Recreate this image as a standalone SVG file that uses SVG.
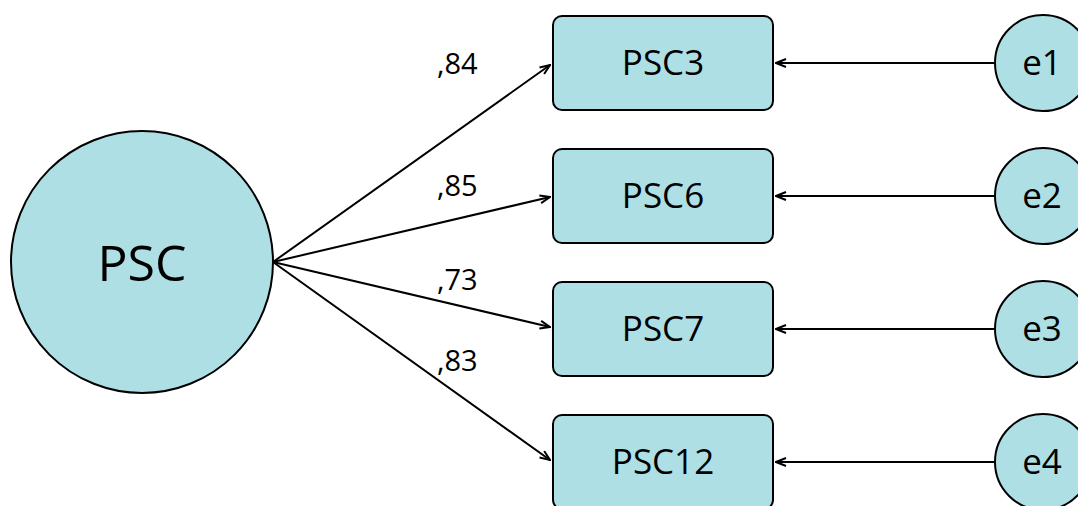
<svg xmlns="http://www.w3.org/2000/svg" width="1078" height="506" viewBox="0 0 1078 506">
<defs>
<style>
.shape{fill:#addfe5;stroke:#000;stroke-width:2}
.lbl{font-family:"Open Sans","Noto Sans",sans-serif;fill:#000;text-anchor:middle}
.coef{font-family:"Open Sans","Noto Sans",sans-serif;fill:#000;font-size:29px}
.edge{stroke:#000;stroke-width:2;fill:none;marker-end:url(#arr)}
</style>
<marker id="arr" markerUnits="userSpaceOnUse" viewBox="0 0 12 10" refX="11" refY="5" markerWidth="12" markerHeight="10" orient="auto">
<path d="M1,1 L11,5 L1,9" fill="none" stroke="#000" stroke-width="2"/>
</marker>
</defs>
<rect width="1078" height="506" fill="#fff"/>
<g id="connectors">
<line class="edge" x1="273" y1="262" x2="550" y2="65"/>
<line class="edge" x1="273" y1="262" x2="550" y2="197"/>
<line class="edge" x1="273" y1="262" x2="550" y2="327"/>
<line class="edge" x1="273" y1="262" x2="550" y2="460"/>
<line class="edge" x1="995" y1="63" x2="776" y2="63"/>
<line class="edge" x1="995" y1="196" x2="776" y2="196"/>
<line class="edge" x1="995" y1="329" x2="776" y2="329"/>
<line class="edge" x1="995" y1="462" x2="776" y2="462"/>
<text class="coef" x="437" y="74">,84</text>
<text class="coef" x="437" y="196">,85</text>
<text class="coef" x="437" y="290">,73</text>
<text class="coef" x="437" y="371">,83</text>
</g>
<g id="PSC">
<circle class="shape" cx="142" cy="262" r="131"/>
<text class="lbl" x="142" y="281" font-size="50">PSC</text>
</g>
<g id="PSC3">
<rect class="shape" x="553" y="16" width="220" height="94" rx="9"/>
<text class="lbl" x="663" y="75" font-size="35">PSC3</text>
</g>
<g id="PSC6">
<rect class="shape" x="553" y="149" width="220" height="94" rx="9"/>
<text class="lbl" x="663" y="208" font-size="35">PSC6</text>
</g>
<g id="PSC7">
<rect class="shape" x="553" y="282" width="220" height="94" rx="9"/>
<text class="lbl" x="663" y="341" font-size="35">PSC7</text>
</g>
<g id="PSC12">
<rect class="shape" x="553" y="415" width="220" height="94" rx="9"/>
<text class="lbl" x="663" y="474" font-size="35">PSC12</text>
</g>
<g id="e1">
<circle class="shape" cx="1043" cy="63" r="48"/>
<text class="lbl" x="1042" y="75" font-size="35">e1</text>
</g>
<g id="e2">
<circle class="shape" cx="1043" cy="196" r="48"/>
<text class="lbl" x="1042" y="208" font-size="35">e2</text>
</g>
<g id="e3">
<circle class="shape" cx="1043" cy="329" r="48"/>
<text class="lbl" x="1042" y="341" font-size="35">e3</text>
</g>
<g id="e4">
<circle class="shape" cx="1043" cy="462" r="48"/>
<text class="lbl" x="1042" y="474" font-size="35">e4</text>
</g>
</svg>
